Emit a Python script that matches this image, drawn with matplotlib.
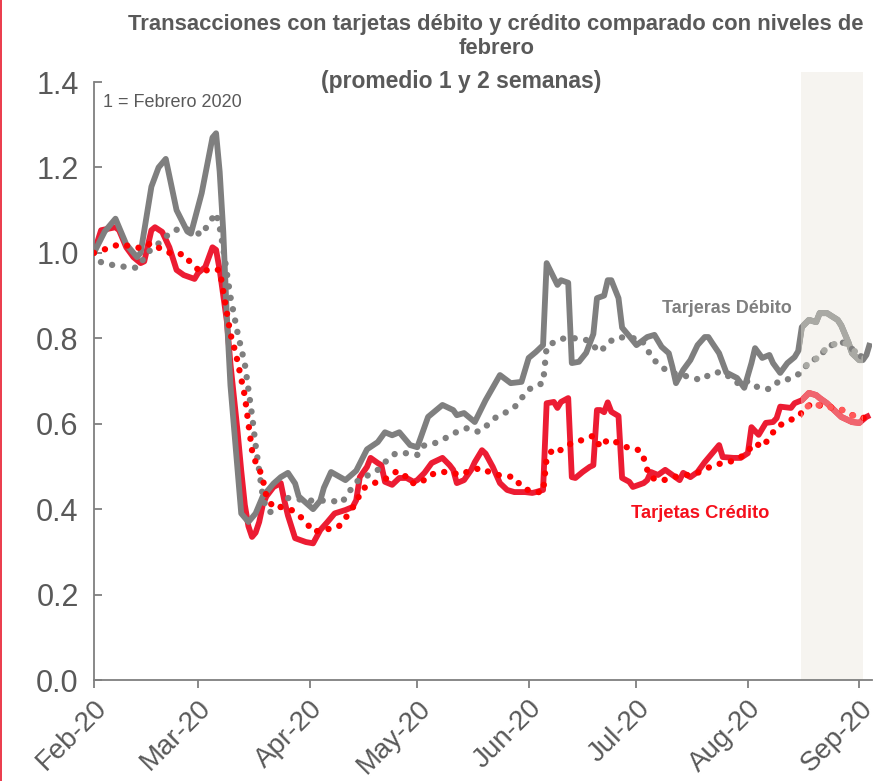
import numpy as np
import pandas as pd
import matplotlib
matplotlib.use("Agg")
import matplotlib.pyplot as plt
import matplotlib.dates as mdates
from matplotlib import font_manager
from matplotlib.patches import Rectangle
from matplotlib.lines import Line2D

START = pd.Timestamp("2020-02-01")

# days since 1 Feb 2020 and index values (1 = Febrero 2020)
debit_1w_days = [0, 3, 6, 9, 12, 13, 16, 18, 20, 23, 26, 27, 30, 33, 34, 35, 36, 37, 38, 39, 40, 41, 43, 45,
                 47, 50, 52, 54, 56, 57, 59, 61, 63, 64, 66, 70, 73, 76, 79, 81, 83, 85, 88, 90, 93, 97, 100,
                 101, 103, 106, 109, 113, 116, 119, 121, 123, 125, 126, 129, 130, 132, 133, 135, 137, 139, 140,
                 142, 143, 144, 146, 147, 149, 151, 154, 156, 158, 160, 161, 162, 164, 166, 168, 170, 171, 172,
                 174, 176, 179, 181, 183, 184, 186, 188, 189, 191, 193, 195, 196, 197, 199, 201, 202, 204, 207,
                 208, 210, 211, 213, 214, 215, 216]
debit_1w = [1.00, 1.05, 1.08, 1.02, 0.99, 1.00, 1.155, 1.20, 1.22, 1.10, 1.05, 1.045, 1.14, 1.27, 1.28, 1.19,
            1.05, 0.85, 0.69, 0.59, 0.49, 0.39, 0.37, 0.39, 0.43, 0.46, 0.475, 0.485, 0.46, 0.43, 0.415, 0.40,
            0.42, 0.45, 0.487, 0.468, 0.49, 0.54, 0.557, 0.58, 0.573, 0.58, 0.55, 0.545, 0.616, 0.644, 0.632,
            0.62, 0.625, 0.604, 0.655, 0.714, 0.695, 0.698, 0.754, 0.768, 0.784, 0.976, 0.925, 0.936, 0.93,
            0.742, 0.745, 0.766, 0.81, 0.894, 0.90, 0.936, 0.936, 0.894, 0.825, 0.805, 0.784, 0.803, 0.808,
            0.78, 0.765, 0.733, 0.695, 0.726, 0.749, 0.784, 0.803, 0.803, 0.79, 0.765, 0.72, 0.707, 0.684,
            0.742, 0.777, 0.754, 0.761, 0.742, 0.719, 0.742, 0.756, 0.77, 0.826, 0.843, 0.838, 0.859, 0.859,
            0.843, 0.83, 0.79, 0.765, 0.749, 0.749, 0.761, 0.789]

debit_2w_days = [0, 2, 6, 9, 12, 14, 16, 19, 21, 24, 27, 30, 32, 34, 35, 36, 37, 38, 40, 42, 43, 44, 45, 46,
                 47, 48, 49, 52, 54, 60, 66, 69, 71, 73, 76, 79, 81, 84, 87, 90, 92, 95, 98, 101, 104, 107,
                 110, 112, 116, 118, 120, 122, 125, 126, 129, 131, 134, 137, 141, 143, 146, 149, 152, 154, 155,
                 158, 160, 166, 169, 172, 175, 180, 182, 185, 188, 191, 194, 197, 199, 202, 204, 207, 209, 211,
                 213, 216]
debit_2w = [1.00, 0.978, 0.97, 0.967, 0.965, 0.988, 1.01, 1.028, 1.046, 1.058, 1.053, 1.042, 1.07, 1.093,
            1.06, 1.01, 0.953, 0.897, 0.812, 0.74, 0.68, 0.62, 0.55, 0.49, 0.43, 0.40, 0.393, 0.405, 0.426,
            0.42, 0.42, 0.415, 0.44, 0.464, 0.478, 0.492, 0.51, 0.531, 0.531, 0.527, 0.55, 0.555, 0.567, 0.581,
            0.59, 0.581, 0.60, 0.616, 0.632, 0.646, 0.672, 0.686, 0.695, 0.78, 0.796, 0.80, 0.80, 0.796, 0.768,
            0.79, 0.803, 0.80, 0.80, 0.777, 0.756, 0.733, 0.721, 0.709, 0.702, 0.719, 0.721, 0.69, 0.70, 0.684,
            0.681, 0.702, 0.705, 0.721, 0.745, 0.756, 0.78, 0.789, 0.79, 0.775, 0.76, 0.747]

credit_1w_days = [0, 2, 6, 7, 9, 11, 13, 14, 16, 17, 19, 21, 23, 25, 28, 29, 31, 33, 34, 35, 36, 37, 38, 39,
                  40, 41, 42, 43, 44, 45, 46, 47, 48, 50, 52, 53, 54, 56, 59, 61, 63, 65, 67, 70, 72, 73, 74,
                  76, 77, 79, 80, 81, 83, 85, 87, 89, 90, 92, 94, 97, 99, 100, 101, 103, 105, 106, 108, 109,
                  111, 113, 115, 117, 119, 120, 122, 123, 125, 126, 128, 129, 130, 132, 133, 134, 136, 138, 139,
                  140, 141, 142, 143, 144, 146, 147, 149, 150, 153, 154, 155, 157, 159, 161, 163, 164, 166, 168,
                  170, 171, 174, 175, 178, 180, 182, 183, 185, 187, 189, 190, 191, 194, 195, 197, 199, 201, 202,
                  204, 206, 208, 211, 213, 214, 215, 216]
credit_1w = [1.00, 1.053, 1.06, 1.053, 1.013, 0.99, 0.976, 0.98, 1.053, 1.06, 1.049, 1.013, 0.96, 0.948,
             0.939, 0.953, 0.967, 1.013, 1.007, 0.96, 0.90, 0.84, 0.74, 0.66, 0.58, 0.49, 0.41, 0.36, 0.335,
             0.345, 0.37, 0.41, 0.43, 0.452, 0.461, 0.42, 0.385, 0.332, 0.323, 0.32, 0.351, 0.37, 0.39, 0.398,
             0.405, 0.421, 0.475, 0.499, 0.52, 0.508, 0.503, 0.464, 0.457, 0.473, 0.473, 0.464, 0.468, 0.485,
             0.508, 0.52, 0.503, 0.492, 0.461, 0.468, 0.492, 0.51, 0.538, 0.53, 0.499, 0.461, 0.445, 0.44, 0.44,
             0.44, 0.438, 0.44, 0.445, 0.648, 0.651, 0.637, 0.651, 0.66, 0.475, 0.473, 0.487, 0.499, 0.503,
             0.632, 0.632, 0.627, 0.65, 0.628, 0.618, 0.473, 0.464, 0.452, 0.461, 0.468, 0.487, 0.48, 0.492,
             0.48, 0.468, 0.485, 0.475, 0.487, 0.51, 0.52, 0.55, 0.522, 0.52, 0.52, 0.531, 0.592, 0.574, 0.602,
             0.604, 0.613, 0.64, 0.637, 0.648, 0.655, 0.672, 0.667, 0.66, 0.648, 0.632, 0.616, 0.604, 0.602,
             0.609, 0.616, 0.62]

credit_2w_days = [0, 4, 7, 10, 13, 16, 19, 22, 25, 27, 30, 32, 35, 36, 37, 38, 39, 40, 41, 42, 43, 44, 45, 46,
                  47, 48, 50, 52, 55, 57, 59, 61, 65, 68, 70, 72, 75, 78, 81, 84, 86, 88, 91, 93, 96, 99, 102,
                  105, 108, 111, 114, 117, 119, 122, 125, 126, 128, 130, 133, 136, 139, 141, 143, 146, 149, 152,
                  153, 154, 155, 158, 161, 164, 168, 173, 176, 179, 181, 184, 186, 188, 190, 193, 196, 198, 200,
                  203, 207, 210, 212, 215]
credit_2w = [1.00, 1.011, 1.02, 1.016, 1.011, 1.023, 1.007, 0.997, 0.997, 0.976, 0.953, 0.962, 0.96, 0.91,
             0.86, 0.81, 0.78, 0.745, 0.705, 0.665, 0.60, 0.538, 0.51, 0.495, 0.47, 0.43, 0.403, 0.405, 0.398,
             0.386, 0.37, 0.347, 0.353, 0.358, 0.379, 0.403, 0.449, 0.461, 0.47, 0.487, 0.485, 0.461, 0.461,
             0.478, 0.487, 0.487, 0.48, 0.492, 0.496, 0.482, 0.478, 0.475, 0.452, 0.44, 0.44, 0.52, 0.543,
             0.538, 0.555, 0.562, 0.572, 0.545, 0.563, 0.555, 0.542, 0.538, 0.52, 0.492, 0.474, 0.466, 0.475,
             0.478, 0.485, 0.505, 0.508, 0.517, 0.527, 0.555, 0.545, 0.567, 0.592, 0.606, 0.616, 0.637, 0.648,
             0.64, 0.637, 0.625, 0.616, 0.613]

# highlighted window (days since 1 Feb) and x range
WINDOW = (196.7, 214.0)
X_END = 216.5

GRAY, GRAY_LT = "#7f7f7f", "#a9a9a4"
RED, RED_LT = "#ec1c33", "#f0656f"
RED_DOT, RED_DOT_LT = "#ff0000", "#ff5a5a"
TXT = "#595959"

names = {f.name for f in font_manager.fontManager.ttflist}
NARROW = "Liberation Sans Narrow" if "Liberation Sans Narrow" in names else "Liberation Sans"
plt.rcParams["font.family"] = ["Liberation Sans", "DejaVu Sans"]


def to_dates(days):
    return START + pd.to_timedelta(np.asarray(days, dtype=float), unit="D")


fig = plt.figure(figsize=(8.86, 7.81), dpi=100)
ax = fig.add_axes([0.106, 0.1293, 0.878, 0.7657])

w0, w1 = to_dates(WINDOW)
ax.axvspan(w0, w1, ymin=0, ymax=1.017, color="#f6f4f0", lw=0, zorder=0, clip_on=False)
clip = Rectangle((mdates.date2num(w0), -1), mdates.date2num(w1) - mdates.date2num(w0), 4,
                 transform=ax.transData)

DOTS = (0, (0.01, 1.8))
series = [
    (credit_1w_days, credit_1w, RED, RED_LT, "-", 4.2, 2),
    (debit_1w_days, debit_1w, GRAY, GRAY_LT, "-", 4.2, 3),
    (debit_2w_days, debit_2w, GRAY, GRAY_LT, DOTS, 4.6, 4),
    (credit_2w_days, credit_2w, RED_DOT, RED_DOT_LT, DOTS, 4.6, 5),
]
for days, vals, col, col_lt, ls, lw, z in series:
    x = to_dates(days)
    ax.plot(x, vals, color=col, lw=lw, ls=ls, zorder=z, solid_capstyle="butt",
            dash_capstyle="round", solid_joinstyle="round")
    # lighter copy shown only inside the highlighted window
    ln, = ax.plot(x, vals, color=col_lt, lw=lw + 0.2, ls=ls, zorder=z + 0.5,
                  solid_capstyle="butt", dash_capstyle="round", solid_joinstyle="round")
    ln.set_clip_path(clip)

ax.set_ylim(0, 1.4)
ax.set_xlim(START, to_dates([X_END])[0])
ax.set_yticks(np.arange(0, 1.41, 0.2))
ax.yaxis.set_major_formatter(plt.FuncFormatter(lambda v, p: f"{v:.1f}"))
ax.xaxis.set_major_locator(mdates.MonthLocator())
ax.xaxis.set_major_formatter(mdates.DateFormatter("%b-%y"))

for s in ["top", "right"]:
    ax.spines[s].set_visible(False)
for s in ["left", "bottom"]:
    ax.spines[s].set_color(GRAY)
    ax.spines[s].set_linewidth(1.3)
ax.tick_params(axis="y", direction="in", length=6, width=1.3, color=GRAY, pad=11,
               labelsize=22, labelcolor=TXT)
ax.tick_params(axis="x", direction="out", length=6, width=1.3, color=GRAY, pad=5,
               labelsize=20, labelcolor=TXT)
for lab in ax.get_yticklabels():
    lab.set_fontfamily(NARROW)
for lab in ax.get_xticklabels():
    lab.set_fontfamily(NARROW)
    lab.set_rotation(45)
    lab.set_ha("right")
    lab.set_va("top")
    lab.set_rotation_mode("anchor")

fig.text(0.56, 0.969, "Transacciones con tarjetas débito y crédito comparado con niveles de",
         ha="center", va="center", fontsize=15.8, fontweight="bold", color=TXT)
fig.text(0.56, 0.938, "febrero", ha="center", va="center", fontsize=15.8, fontweight="bold", color=TXT)
fig.text(0.521, 0.896, "(promedio 1 y 2 semanas)", ha="center", va="center", fontsize=16.5,
         fontweight="bold", color=TXT)

ax.text(0.012, 0.965, "1 = Febrero 2020", transform=ax.transAxes, fontsize=13, color=TXT,
        ha="left", va="center")
ax.text(to_dates([158])[0], 0.87, "Tarjeras Débito", fontsize=13, fontweight="bold", color=GRAY,
        ha="left", va="center")
ax.text(to_dates([149.5])[0], 0.39, "Tarjetas Crédito", fontsize=13.2, fontweight="bold", color="#f5101c",
        ha="left", va="center")

fig.add_artist(Line2D([0.0012, 0.0012], [0, 1], transform=fig.transFigure, color="#e8192c", lw=1.2))

fig.savefig("out.png", dpi=100)
